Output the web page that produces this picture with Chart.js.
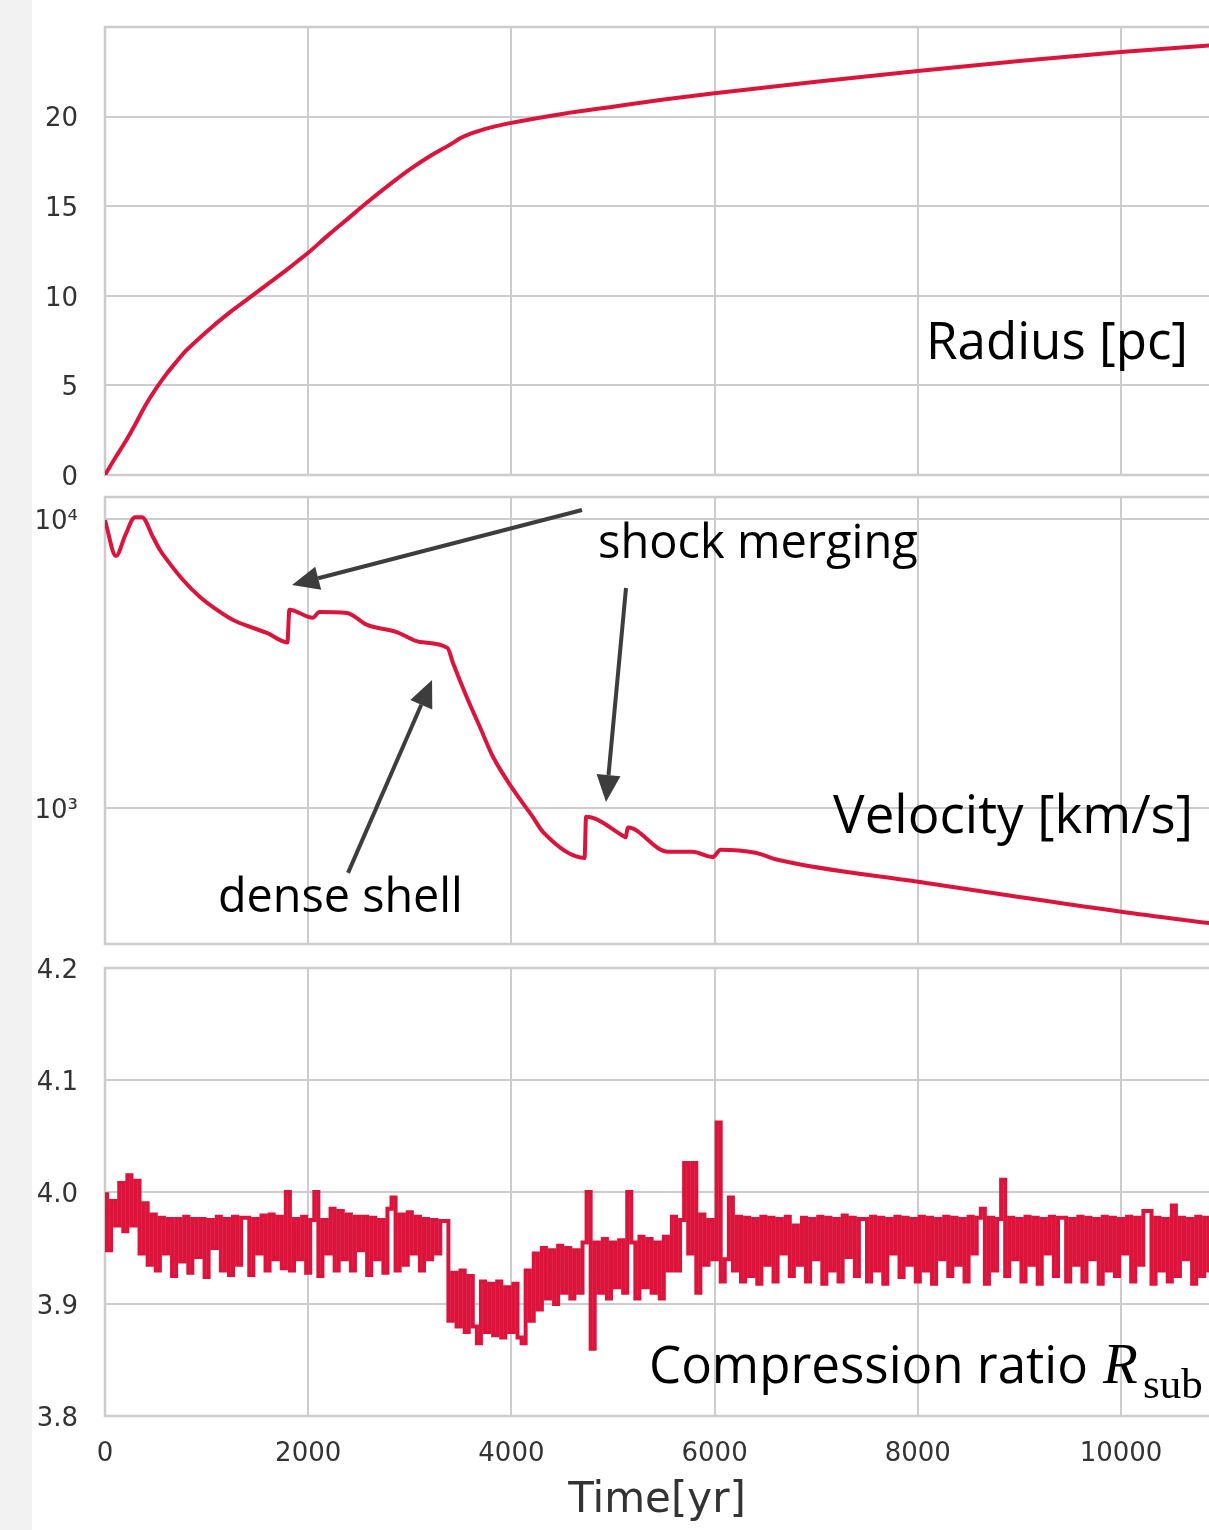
<!DOCTYPE html>
<html>
<head>
<meta charset="utf-8">
<script src="https://cdn.jsdelivr.net/npm/chart.js@4.4.1/dist/chart.umd.min.js"></script>
<style>
html,body{margin:0;padding:0;background:#fff;width:1209px;height:1530px;overflow:hidden;}
#strip{position:absolute;left:0;top:0;width:32px;height:1530px;background:#f2f2f2;}
canvas{position:absolute;left:0;}
</style>
</head>
<body>
<div id="strip"></div>
<canvas id="c1" width="1209" height="500" style="top:0px;width:1209px;height:500px"></canvas>
<canvas id="c2" width="1209" height="500" style="top:470px;width:1209px;height:500px"></canvas>
<canvas id="c3" width="1209" height="590" style="top:940px;width:1209px;height:590px"></canvas>
<script>
// ---------------- data ----------------
const timeTicks = [0, 2000, 4000, 6000, 8000, 10000];

const radiusTime  = [0, 100, 200, 300, 400, 500, 600, 700, 800, 1000, 1200, 1400, 1600, 1800, 1900, 2000, 2200, 2400, 2600, 2800, 3000, 3200, 3400, 3500, 3600, 3800, 4000, 4500, 5000, 5500, 6000, 7000, 8000, 9000, 10000, 10900];
const radiusValue = [0, 0.95, 1.85, 2.85, 3.9, 4.8, 5.6, 6.3, 6.95, 8.0, 8.95, 9.8, 10.65, 11.5, 11.95, 12.4, 13.4, 14.35, 15.3, 16.2, 17.05, 17.8, 18.45, 18.8, 19.05, 19.4, 19.65, 20.15, 20.55, 20.95, 21.3, 21.95, 22.55, 23.1, 23.6, 23.98];
const radiusTicks = [0, 5, 10, 15, 20];

const velocityTime  = [0, 108, 200, 295, 364, 472, 541, 610, 768, 935, 1102, 1260, 1457, 1594, 1795, 1815, 2045, 2110, 2380, 2580, 2870, 3100, 3370, 3425, 3560, 3690, 3820, 4020, 4210, 4310, 4720, 4735, 5100, 5125, 5145, 5540, 5780, 5980, 6060, 6400, 6630, 8000, 10000, 10900];
const velocityValue = [9900, 7450, 8800, 10150, 10150, 8660, 7810, 7220, 6150, 5370, 4843, 4470, 4197, 4032, 3740, 4850, 4550, 4770, 4730, 4300, 4060, 3750, 3580, 3175, 2420, 1906, 1500, 1154, 931, 826, 671, 931, 800, 790, 855, 705, 705, 676, 716, 699, 660, 555, 437, 398];
const velocityTickValues = [1000, 10000];
const velocityTickLabels = ['10\u00B3', '10\u2074'];

const compressionStart = 0;
const compressionStep = 40;
const compressionValue = [
  3.998, 3.948, 3.992, 3.970, 4.008, 3.965, 4.015, 3.970, 4.010, 3.945,
  3.990, 3.935, 3.980, 3.930, 3.977, 3.945, 3.976, 3.925, 3.976, 3.938,
  3.978, 3.928, 3.976, 3.942, 3.976, 3.924, 3.975, 3.950, 3.978, 3.930,
  3.976, 3.926, 3.978, 3.935, 3.977, 3.977, 3.926, 3.976, 3.945, 3.979,
  3.930, 3.980, 3.940, 3.978, 3.932, 4.000, 3.930, 3.976, 3.940, 3.978,
  3.928, 3.975, 4.000, 3.925, 3.975, 3.945, 3.985, 3.930, 3.983, 3.940,
  3.980, 3.930, 3.978, 3.948, 3.978, 3.926, 3.977, 3.940, 3.975, 3.928,
  3.985, 3.995, 3.930, 3.980, 3.935, 3.982, 3.945, 3.978, 3.930, 3.976,
  3.940, 3.975, 3.945, 3.974, 3.974, 3.885, 3.928, 3.880, 3.930, 3.875,
  3.925, 3.880, 3.865, 3.920, 3.875, 3.918, 3.872, 3.920, 3.870, 3.915,
  3.875, 3.918, 3.870, 3.865, 3.930, 3.885, 3.945, 3.895, 3.950, 3.905,
  3.948, 3.900, 3.952, 3.910, 3.950, 3.905, 3.948, 3.910, 3.955, 4.000,
  3.860, 3.955, 3.910, 3.958, 3.905, 3.955, 3.915, 3.957, 3.910, 4.000,
  3.955, 3.905, 3.960, 3.915, 3.958, 3.910, 3.955, 3.905, 3.960, 3.930,
  3.978, 3.930, 3.975, 4.026, 3.945, 4.026, 3.910, 3.980, 3.935, 3.975,
  3.940, 4.062, 3.920, 3.940, 3.995, 3.930, 3.978, 3.920, 3.977, 3.925,
  3.976, 3.918, 3.978, 3.935, 3.977, 3.920, 3.976, 3.945, 3.978, 3.925,
  3.970, 3.935, 3.977, 3.920, 3.976, 3.940, 3.978, 3.918, 3.977, 3.930,
  3.976, 3.920, 3.979, 3.942, 3.977, 3.925, 3.976, 3.976, 3.920, 3.978,
  3.930, 3.977, 3.918, 3.976, 3.945, 3.978, 3.924, 3.977, 3.935, 3.976,
  3.920, 3.978, 3.930, 3.977, 3.918, 3.976, 3.940, 3.978, 3.925, 3.977,
  3.935, 3.976, 3.920, 3.978, 3.945, 3.977, 3.985, 3.918, 3.977, 3.930,
  3.976, 4.011, 3.925, 3.977, 3.940, 3.976, 3.920, 3.978, 3.935, 3.977,
  3.918, 3.976, 3.945, 3.978, 3.925, 3.977, 3.977, 3.920, 3.976, 3.935,
  3.978, 3.920, 3.977, 3.940, 3.976, 3.918, 3.978, 3.930, 3.977, 3.925,
  3.976, 3.945, 3.978, 3.920, 3.977, 3.935, 3.983, 3.983, 3.918, 3.977,
  3.930, 3.976, 3.920, 3.988, 3.925, 3.977, 3.940, 3.976, 3.918, 3.978,
  3.925, 3.977, 3.930
];
const compressionTicks = [3.8, 3.9, 4.0, 4.1, 4.2];

// ---------------- styling ----------------
const X_MAX = 10866;
const GRID = '#cccccc';
const LINE = '#dc143c';
const TICK_FONT = {family: 'DejaVu Sans', size: 26};
const TICK_COLOR = '#333333';

function xScale(showTicks) {
  return {
    type: 'linear', min: 0, max: X_MAX,
    afterBuildTicks(s) { s.ticks = timeTicks.map(v => ({value: v})); },
    ticks: {display: showTicks, font: TICK_FONT, color: TICK_COLOR, padding: 23, maxRotation: 0, autoSkip: false,
            callback: v => String(v)},
    grid: {color: GRID, lineWidth: 2, drawTicks: false},
    border: {display: false},
    title: showTicks ? {display: true, text: 'Time[yr]', font: {family: 'DejaVu Sans', size: 42}, color: '#333333', padding: {top: 0, bottom: 4}} : {display: false},
    afterFit(s) { s.height = showTicks ? 114 : 0; s.paddingLeft = 0; s.paddingRight = 0; }
  };
}
function yFit(s) { s.width = 105; s.paddingTop = 0; s.paddingBottom = 0; }

const framePlugin = {
  id: 'frame',
  beforeDatasetsDraw(chart) {
    const {ctx, chartArea: a} = chart;
    ctx.save();
    ctx.strokeStyle = GRID; ctx.lineWidth = 2.5;
    ctx.beginPath();
    ctx.moveTo(a.right + 2, a.top); ctx.lineTo(a.left, a.top); ctx.lineTo(a.left, a.bottom); ctx.lineTo(a.right + 2, a.bottom);
    ctx.stroke();
    ctx.restore();
  }
};

function notesPlugin(items) {
  return {
    id: 'notes',
    afterDraw(chart) {
      const ctx = chart.ctx, xs = chart.scales.x, ys = chart.scales.y;
      ctx.save();
      items.forEach(n => {
        if (n.type === 'arrow') {
          const x0 = xs.getPixelForValue(n.from[0]), y0 = ys.getPixelForValue(n.from[1]);
          const x1 = xs.getPixelForValue(n.to[0]), y1 = ys.getPixelForValue(n.to[1]);
          const ang = Math.atan2(y1 - y0, x1 - x0);
          const hl = 27, hw = 12;
          const bx = x1 - hl * Math.cos(ang), by = y1 - hl * Math.sin(ang);
          ctx.strokeStyle = '#3d3d3d'; ctx.fillStyle = '#3d3d3d'; ctx.lineWidth = 4; ctx.lineCap = 'butt';
          ctx.beginPath(); ctx.moveTo(x0, y0); ctx.lineTo(bx, by); ctx.stroke();
          ctx.beginPath();
          ctx.moveTo(x1, y1);
          ctx.lineTo(bx + hw * Math.sin(ang), by - hw * Math.cos(ang));
          ctx.lineTo(bx - hw * Math.sin(ang), by + hw * Math.cos(ang));
          ctx.closePath(); ctx.fill();
        } else {
          const fam = n.family || 'Open Sans', st = n.style || 'normal';
          let size = n.size;
          if (n.width) {
            ctx.font = `${st} 100px "${fam}"`;
            size = 100 * n.width / ctx.measureText(n.text).width;
          }
          ctx.font = `${st} ${size}px "${fam}"`;
          ctx.fillStyle = '#000000';
          ctx.textAlign = n.align || 'left';
          ctx.textBaseline = 'alphabetic';
          ctx.fillText(n.text, xs.getPixelForValue(n.x), ys.getPixelForValue(n.y));
        }
      });
      ctx.restore();
    }
  };
}

function yTicks(cb) {
  return {font: TICK_FONT, color: TICK_COLOR, padding: 27, labelOffset: 3, autoSkip: false, callback: cb};
}

function baseOptions(padding, yOpts, showX) {
  return {
    responsive: false, animation: false, devicePixelRatio: 1, events: [],
    layout: {padding: padding},
    plugins: {legend: {display: false}, tooltip: {enabled: false}},
    scales: {x: xScale(showX), y: yOpts}
  };
}

// ---------------- panel 1: radius ----------------
new Chart(document.getElementById('c1'), {
  type: 'line',
  data: {datasets: [{data: radiusTime.map((t, i) => ({x: t, y: radiusValue[i]})),
    borderColor: LINE, borderWidth: 4, pointRadius: 0, cubicInterpolationMode: 'monotone', fill: false}]},
  options: baseOptions({top: 27, bottom: 25, left: 0, right: 0}, {
    type: 'linear', min: 0, max: 25,
    afterBuildTicks(s) { s.ticks = radiusTicks.map(v => ({value: v})); },
    ticks: yTicks(v => String(v)),
    grid: {color: GRID, lineWidth: 2, drawTicks: false},
    border: {display: false},
    afterFit: yFit
  }, false),
  plugins: [framePlugin, notesPlugin([
    {text: 'Radius [pc]', x: 10660, y: 6.5, align: 'right', width: 262}
  ])]
});

// ---------------- panel 2: velocity ----------------
new Chart(document.getElementById('c2'), {
  type: 'line',
  data: {datasets: [{data: velocityTime.map((t, i) => ({x: t, y: velocityValue[i]})),
    borderColor: LINE, borderWidth: 4, pointRadius: 0, cubicInterpolationMode: 'monotone', fill: false}]},
  options: baseOptions({top: 27, bottom: 26, left: 0, right: 0}, {
    type: 'logarithmic', min: 338, max: 11917,
    afterBuildTicks(s) { s.ticks = velocityTickValues.map(v => ({value: v})); },
    ticks: yTicks(v => velocityTickLabels[velocityTickValues.indexOf(v)]),
    grid: {color: GRID, lineWidth: 2, drawTicks: false},
    border: {display: false},
    afterFit: yFit
  }, false),
  plugins: [framePlugin, notesPlugin([
    {type: 'arrow', from: [4695, 10743], to: [1841, 5909]},
    {type: 'arrow', from: [5128, 5770], to: [4931, 1049]},
    {type: 'arrow', from: [2392, 596], to: [3219, 2773]},
    {text: 'shock merging', x: 4852, y: 7328, align: 'left', width: 320},
    {text: 'Velocity [km/s]', x: 10709, y: 819, align: 'right', width: 360},
    {text: 'dense shell', x: 1112, y: 436, align: 'left', width: 245}
  ])]
});

// ---------------- panel 3: compression ratio ----------------
new Chart(document.getElementById('c3'), {
  type: 'line',
  data: {datasets: [{data: compressionValue.map((v, i) => ({x: compressionStart + i * compressionStep, y: v})),
    borderColor: LINE, borderWidth: 4, pointRadius: 0, stepped: 'middle', fill: false}]},
  options: baseOptions({top: 28, bottom: 0, left: 0, right: 0}, {
    type: 'linear', min: 3.8, max: 4.2,
    afterBuildTicks(s) { s.ticks = compressionTicks.map(v => ({value: v})); },
    ticks: yTicks(v => v.toFixed(1)),
    grid: {color: GRID, lineWidth: 2, drawTicks: false},
    border: {display: false},
    afterFit: yFit
  }, true),
  plugins: [framePlugin, notesPlugin([
    {text: 'Compression ratio', x: 5354, y: 3.8295, align: 'left', width: 439},
    {text: 'R', x: 9823, y: 3.8295, align: 'left', family: 'Liberation Serif', style: 'italic', size: 57},
    {text: 'sub', x: 10217, y: 3.816, align: 'left', family: 'Liberation Serif', size: 43}
  ])]
});
</script>
</body>
</html>
